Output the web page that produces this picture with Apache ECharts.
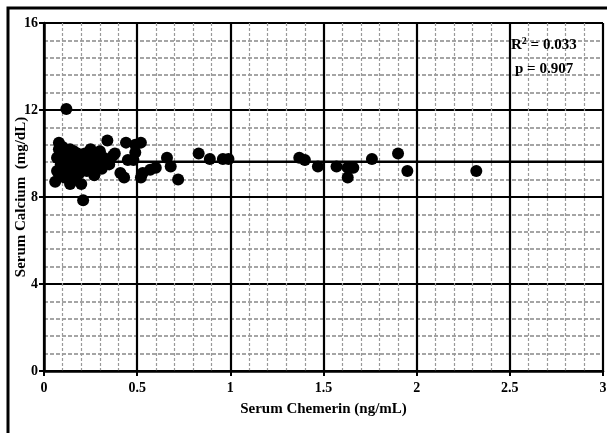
<!DOCTYPE html>
<html><head><meta charset="utf-8">
<script src="https://cdn.jsdelivr.net/npm/echarts@6/dist/echarts.min.js"></script>
<style>html,body{margin:0;padding:0;background:#fff}#c{width:607px;height:433px}</style>
</head><body><div id="c"></div>
<script>
var chemerin = [0.06,0.07,0.07,0.08,0.08,0.09,0.09,0.10,0.10,0.11,0.11,0.12,0.12,0.13,0.13,0.14,0.14,0.15,0.15,0.16,0.16,0.17,0.17,0.18,0.18,0.19,0.20,0.20,0.21,0.22,0.23,0.24,0.25,0.26,0.27,0.28,0.29,0.30,0.31,0.32,0.34,0.35,0.37,0.38,0.41,0.43,0.44,0.45,0.49,0.12,0.21,0.52,0.49,0.48,0.53,0.52,0.57,0.60,0.66,0.68,0.72,0.83,0.89,0.96,0.99,1.37,1.40,1.47,1.57,1.63,1.63,1.66,1.76,1.90,1.95,2.32];
var calcium  = [8.7,9.2,9.8,10.2,10.5,9.5,9.0,9.9,10.3,9.6,8.9,9.3,10.1,9.7,9.0,10.2,8.6,9.5,9.9,9.2,10.1,9.7,8.8,9.4,10.0,9.1,9.8,8.6,9.5,10.0,9.2,9.7,10.2,9.4,9.0,9.9,9.6,10.1,9.3,9.8,10.6,9.5,9.9,10.0,9.1,8.9,10.5,9.7,10.4,12.05,7.85,10.5,10.05,9.7,9.1,8.9,9.25,9.35,9.8,9.4,8.8,10.0,9.75,9.75,9.75,9.8,9.7,9.4,9.4,8.9,9.35,9.35,9.75,10.0,9.2,9.2];
var fitX = [0.05, 3];
var fitY = [9.62, 9.62];
var xTicks = [0,0.5,1,1.5,2,2.5,3];
var yTicks = [0,4,8,12,16];

var pts = chemerin.map(function(x,i){return [x, calcium[i]];});
var fit = fitX.map(function(x,i){return [x, fitY[i]];});
var serif = 'Liberation Serif';
var chart = echarts.init(document.getElementById('c'));
chart.setOption({
  animation:false,
  backgroundColor:'#fff',
  grid:{left:44,right:4,top:23,bottom:62,containLabel:false,outerBoundsMode:'none'},
  xAxis:{type:'value',min:0,max:3,interval:0.5,
    name:'Serum Chemerin (ng/mL)',nameLocation:'middle',nameGap:31,nameMoveOverlap:false,
    nameTextStyle:{fontFamily:serif,fontWeight:'bold',fontSize:15,color:'#000'},
    axisLine:{show:true,lineStyle:{color:'#000',width:2.5}},
    axisTick:{show:true,length:5,lineStyle:{color:'#000',width:2}},
    axisLabel:{fontFamily:serif,fontWeight:'bold',fontSize:14,color:'#000',margin:10,
      formatter:function(v){return xTicks.indexOf(v)>=0?String(v):'';}},
    splitLine:{show:true,lineStyle:{color:'#000',width:2.2}},
    minorTick:{show:false,splitNumber:5},
    minorSplitLine:{show:true,lineStyle:{color:'#999',width:1.2,type:[3,2]}}
  },
  yAxis:{type:'value',min:0,max:16,interval:4,
    name:'Serum Calcium  (mg/dL)',nameLocation:'middle',nameGap:15,nameRotate:90,nameMoveOverlap:false,
    nameTextStyle:{fontFamily:serif,fontWeight:'bold',fontSize:15,color:'#000'},
    axisLine:{show:true,lineStyle:{color:'#000',width:2.5}},
    axisTick:{show:true,length:5,lineStyle:{color:'#000',width:2}},
    axisLabel:{fontFamily:serif,fontWeight:'bold',fontSize:14,color:'#000',margin:6,
      formatter:function(v){return yTicks.indexOf(v)>=0?String(v):'';}},
    splitLine:{show:true,lineStyle:{color:'#000',width:2.2}},
    minorTick:{show:false,splitNumber:5},
    minorSplitLine:{show:true,lineStyle:{color:'#888',width:1.5,type:[4,2]}}
  },
  series:[
    {type:'line',data:fit,symbol:'none',lineStyle:{color:'#000',width:2.5},z:3},
    {type:'scatter',data:pts,symbol:'circle',symbolSize:12,itemStyle:{color:'#000',opacity:1},z:4}
  ],
  graphic:[
    {type:'rect',shape:{x:8,y:8,width:640,height:460},style:{fill:'none',stroke:'#000',lineWidth:3},z:100},
    {type:'text',left:511,top:36,z:101,style:{
      rich:{n:{fontFamily:serif,fontWeight:'bold',fontSize:15,fill:'#000'},s:{fontFamily:serif,fontWeight:'bold',fontSize:10,fill:'#000',verticalAlign:'top',padding:[0,0,8,0]}},
      text:'{n|R}{s|2}{n| = 0.033}'}},
    {type:'text',left:515,top:62,z:101,style:{fontFamily:serif,fontWeight:'bold',fontSize:15,fill:'#000',text:'p = 0.907'}}
  ]
});
</script></body></html>
